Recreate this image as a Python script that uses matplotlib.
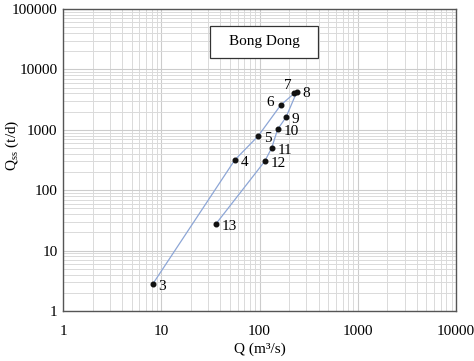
import numpy as np
import matplotlib
matplotlib.use("Agg")
import matplotlib.pyplot as plt
import matplotlib.ticker as ticker
from matplotlib.patches import Rectangle

plt.rcParams['font.family'] = ['Liberation Serif', 'DejaVu Serif']

# Data (event points in order)
labels = ['3', '4', '5', '6', '7', '8', '9', '10', '11', '12', '13']
q = [8.2, 56, 97, 164, 225, 240, 186, 153, 133, 113, 35.8]
qss = [2.8, 316, 790, 2550, 4000, 4250, 1610, 1020, 500, 301, 27.3]

# label offsets in points (dx, dy)
offsets = {'6': (-10, 2), '7': (-7, 6)}

fig = plt.figure(figsize=(4.74, 3.61), dpi=100)
ax = fig.add_axes([63 / 474, 1 - 311 / 361, 393 / 474, 302 / 361])

ax.plot(q, qss, color='#8da6d6', linewidth=0.9, zorder=2)
ax.scatter(q, qss, s=11, color='#111111', zorder=3)

for lab, x, y in zip(labels, q, qss):
    dx, dy = offsets.get(lab, (4, -1.5))
    ax.annotate(lab, (x, y), xytext=(dx, dy), textcoords='offset points',
                fontsize=11, va='center', ha='left')

ax.set_xscale('log')
ax.set_yscale('log')
ax.set_xlim(1, 10000)
ax.set_ylim(1, 100000)

fmt = ticker.FuncFormatter(lambda v, pos: f'{v:.0f}')
ax.xaxis.set_major_formatter(fmt)
ax.yaxis.set_major_formatter(fmt)
ax.xaxis.set_minor_formatter(ticker.NullFormatter())
ax.yaxis.set_minor_formatter(ticker.NullFormatter())

ax.grid(True, which='major', color='#cccccc', linewidth=0.8)
ax.grid(True, which='minor', color='#dadada', linewidth=0.7)
ax.tick_params(which='both', direction='in', length=0, labelsize=11, pad=4)
ax.tick_params(axis='x', pad=10)
for s in ax.spines.values():
    s.set_color('#555555')
    s.set_linewidth(1.0)

ax.set_xlabel('Q (m³/s)', fontsize=11, labelpad=3)
ax.set_ylabel('Q$_{\\mathregular{ss}}$ (t/d)', fontsize=11)
ax.yaxis.set_label_coords(-0.108, 0.55)

ax.add_patch(Rectangle((0.374, 0.838), 0.275, 0.106, transform=ax.transAxes,
                       facecolor='white', edgecolor='#333333', linewidth=0.9, zorder=4))
ax.text(0.512, 0.891, 'Bong Dong', transform=ax.transAxes, ha='center', va='center',
        fontsize=11, zorder=5)

fig.savefig('out.png', dpi=100)
